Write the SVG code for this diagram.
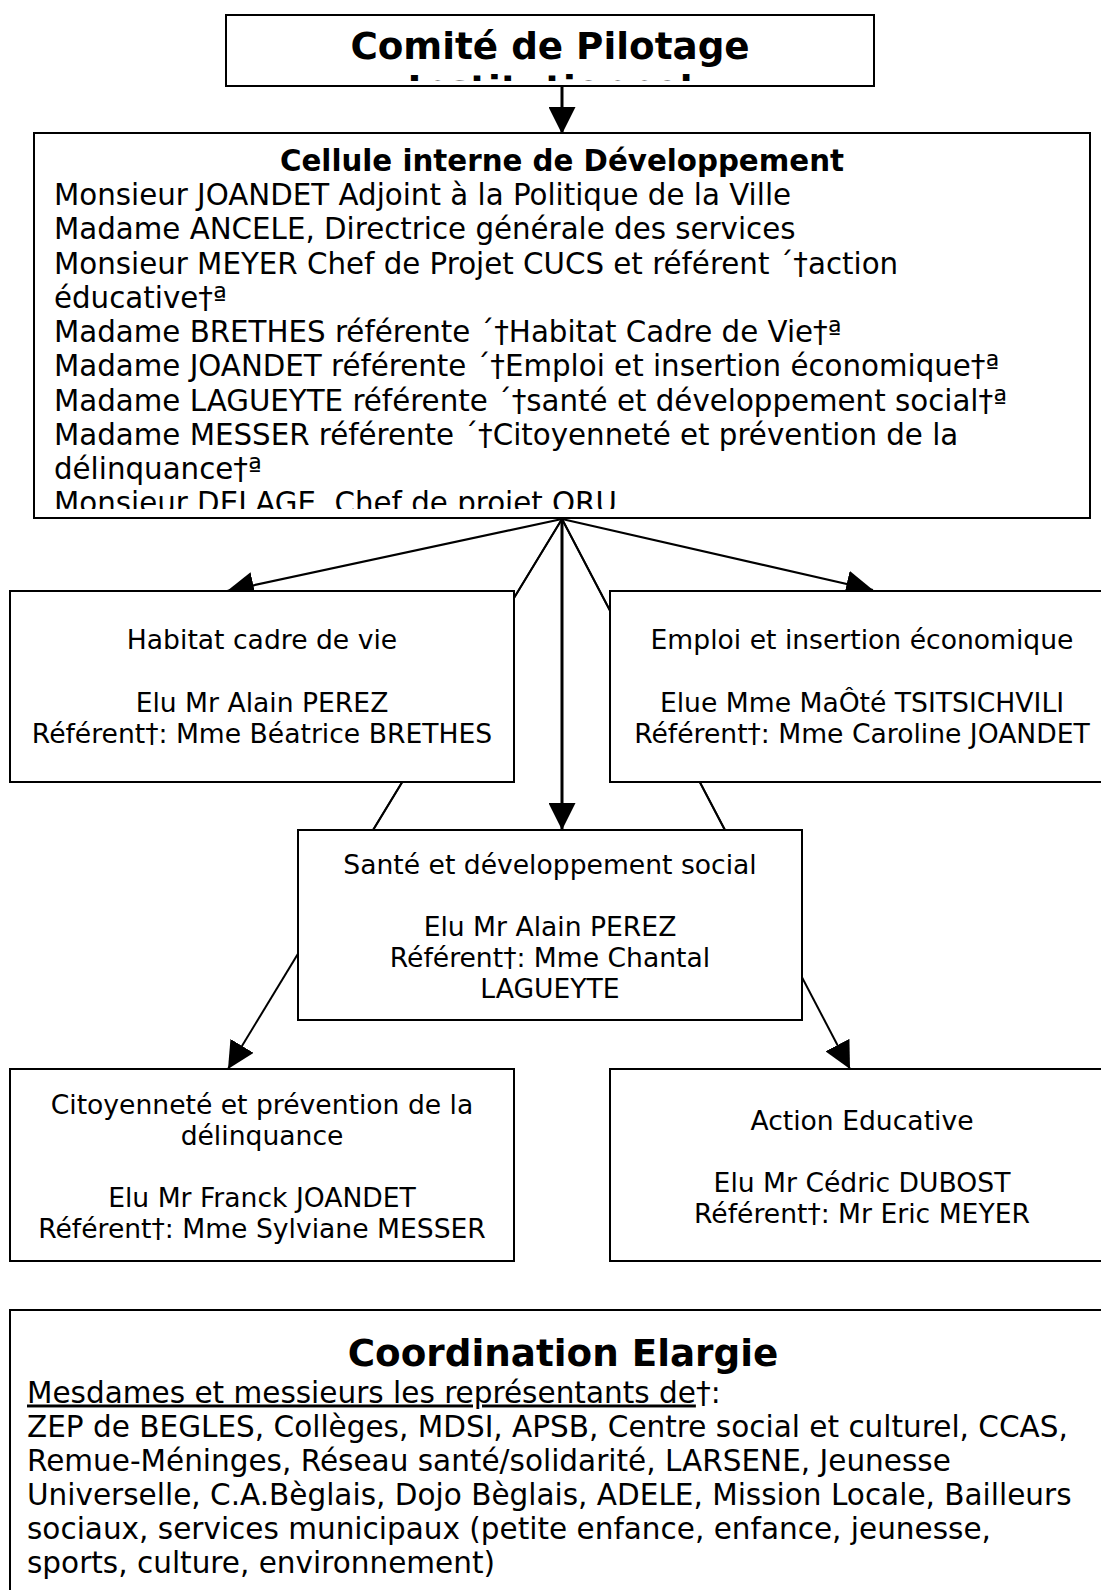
<svg xmlns="http://www.w3.org/2000/svg" width="1101" height="1590" viewBox="0 0 1101 1590">
<style>
.box{fill:#fff;stroke:#000;stroke-width:2}
.t{font-family:"DejaVu Sans","Liberation Sans",sans-serif;fill:#000}
.b{font-weight:bold}
.c{text-anchor:middle}
.body{font-size:29.3px}
.body2{font-size:29.5px}
.sub{font-size:26.6px}
.big{font-size:37.3px}
.ln{stroke:#000;fill:none}
</style>
<defs>
<marker id="ah" markerUnits="userSpaceOnUse" markerWidth="27" markerHeight="27" refX="27" refY="13.5" orient="auto" viewBox="0 0 27 27">
<path d="M0,0 L27,13.5 L0,27 z" fill="#000"/>
</marker>
<clipPath id="clipTop"><rect x="226" y="15" width="648" height="66"/></clipPath>
<clipPath id="clipCell"><rect x="34" y="134" width="1056" height="375"/></clipPath>
</defs>
<g id="connectors">
<line class="ln" x1="562" y1="86" x2="562" y2="134" stroke-width="3" marker-end="url(#ah)"/>
<line class="ln" x1="562" y1="519" x2="227" y2="591" stroke-width="2.2" marker-end="url(#ah)"/>
<line class="ln" x1="562" y1="519" x2="873" y2="590" stroke-width="2.2" marker-end="url(#ah)"/>
<line class="ln" x1="562" y1="519" x2="562" y2="830" stroke-width="3" marker-end="url(#ah)"/>
<line class="ln" x1="562" y1="519" x2="373" y2="830" stroke-width="1.8"/>
<line class="ln" x1="562" y1="519" x2="725" y2="830" stroke-width="1.8"/>
<line class="ln" x1="562" y1="519" x2="228" y2="1069" stroke-width="2" marker-end="url(#ah)"/>
<line class="ln" x1="562" y1="519" x2="850" y2="1069" stroke-width="2" marker-end="url(#ah)"/>
</g>
<g id="comite">
<rect class="box" x="226" y="15" width="648" height="71"/>
<text class="t b c big" x="550" y="58.5">Comité de Pilotage</text>
<text class="t b c big" x="550" y="102" clip-path="url(#clipTop)">Institutionnel</text>
</g>
<g id="cellule">
<rect class="box" x="34" y="133" width="1056" height="385"/>
<g clip-path="url(#clipCell)">
<text class="t b c body" x="562" y="171">Cellule interne de Développement</text>
<text class="t body" x="54">
<tspan x="54" y="205">Monsieur JOANDET Adjoint à la Politique de la Ville</tspan>
<tspan x="54" y="239.3">Madame ANCELE, Directrice générale des services</tspan>
<tspan x="54" y="273.5">Monsieur MEYER Chef de Projet CUCS et référent ´†action</tspan>
<tspan x="54" y="307.8">éducative†ª</tspan>
<tspan x="54" y="342">Madame BRETHES référente ´†Habitat Cadre de Vie†ª</tspan>
<tspan x="54" y="376.3">Madame JOANDET référente ´†Emploi et insertion économique†ª</tspan>
<tspan x="54" y="410.6">Madame LAGUEYTE référente ´†santé et développement social†ª</tspan>
<tspan x="54" y="444.8">Madame MESSER référente ´†Citoyenneté et prévention de la</tspan>
<tspan x="54" y="479">délinquance†ª</tspan>
<tspan x="54" y="513.3">Monsieur DELAGE, Chef de projet ORU</tspan>
</text>
</g>
</g>
<g id="habitat">
<rect class="box" x="10" y="591" width="504" height="191"/>
<text class="t c sub" x="262" y="649">Habitat cadre de vie</text>
<text class="t c sub" x="262" y="711.5">Elu Mr Alain PEREZ</text>
<text class="t c sub" x="262" y="742.5">Référent†: Mme Béatrice BRETHES</text>
</g>
<g id="emploi">
<rect class="box" x="610" y="591" width="504" height="191"/>
<text class="t c sub" x="862" y="649">Emploi et insertion économique</text>
<text class="t c sub" x="862" y="711.5">Elue Mme MaÔté TSITSICHVILI</text>
<text class="t c sub" x="862" y="742.5">Référent†: Mme Caroline JOANDET</text>
</g>
<g id="sante">
<rect class="box" x="298" y="830" width="504" height="190"/>
<text class="t c sub" x="550" y="874">Santé et développement social</text>
<text class="t c sub" x="550" y="936">Elu Mr Alain PEREZ</text>
<text class="t c sub" x="550" y="967">Référent†: Mme Chantal</text>
<text class="t c sub" x="550" y="998">LAGUEYTE</text>
</g>
<g id="citoyennete">
<rect class="box" x="10" y="1069" width="504" height="192"/>
<text class="t c sub" x="262" y="1114">Citoyenneté et prévention de la</text>
<text class="t c sub" x="262" y="1145">délinquance</text>
<text class="t c sub" x="262" y="1207">Elu Mr Franck JOANDET</text>
<text class="t c sub" x="262" y="1238">Référent†: Mme Sylviane MESSER</text>
</g>
<g id="action">
<rect class="box" x="610" y="1069" width="504" height="192"/>
<text class="t c sub" x="862" y="1130">Action Educative</text>
<text class="t c sub" x="862" y="1192">Elu Mr Cédric DUBOST</text>
<text class="t c sub" x="862" y="1223">Référent†: Mr Eric MEYER</text>
</g>
<g id="coordination">
<rect class="box" x="10" y="1310" width="1104" height="300"/>
<text class="t b c big" x="563" y="1366">Coordination Elargie</text>
<text class="t body2">
<tspan x="27" y="1402.5"><tspan text-decoration="underline">Mesdames et messieurs les représentants de</tspan>†:</tspan>
<tspan x="27" y="1436.5">ZEP de BEGLES, Collèges, MDSI, APSB, Centre social et culturel, CCAS,</tspan>
<tspan x="27" y="1470.7">Remue-Méninges, Réseau santé/solidarité, LARSENE, Jeunesse</tspan>
<tspan x="27" y="1505">Universelle, C.A.Bèglais, Dojo Bèglais, ADELE, Mission Locale, Bailleurs</tspan>
<tspan x="27" y="1539">sociaux, services municipaux (petite enfance, enfance, jeunesse,</tspan>
<tspan x="27" y="1573">sports, culture, environnement)</tspan>
</text>
</g>
</svg>
